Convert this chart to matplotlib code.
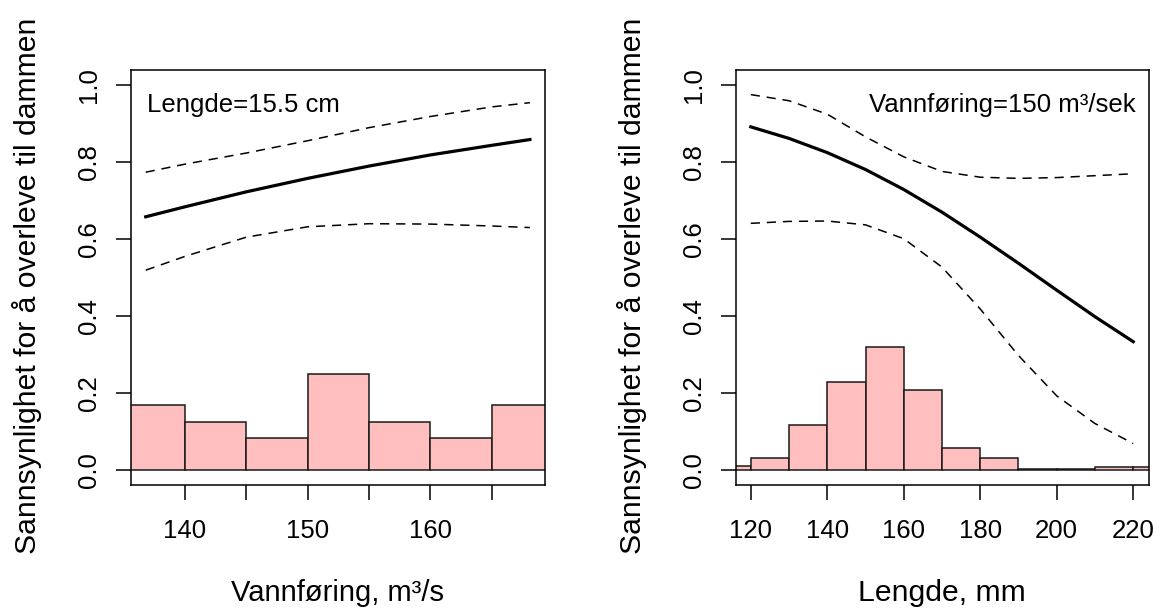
import matplotlib
matplotlib.use("Agg")
import matplotlib.pyplot as plt
import numpy as np

plt.rcParams['font.family'] = ['Liberation Sans', 'DejaVu Sans']

# ---------------- data ----------------
# Left panel: survival vs. water flow (Lengde = 15.5 cm)
flow_bin_edges = [135, 140, 145, 150, 155, 160, 165, 170]
flow_hist = [0.167, 0.125, 0.083, 0.250, 0.125, 0.083, 0.167]
flow_x = [136.8, 140, 145, 150, 155, 160, 165, 168.1]
flow_fit = [0.658, 0.684, 0.723, 0.758, 0.790, 0.819, 0.844, 0.859]
flow_upper = [0.774, 0.795, 0.824, 0.856, 0.890, 0.919, 0.944, 0.955]
flow_lower = [0.519, 0.555, 0.605, 0.632, 0.640, 0.639, 0.634, 0.630]
flow_xticks = [140, 145, 150, 155, 160, 165]
flow_xticklabels = ['140', '', '150', '', '160', '']

# Right panel: survival vs. fish length (Vannføring = 150 m3/sek)
len_bin_edges = [110, 120, 130, 140, 150, 160, 170, 180, 190, 200, 210, 220, 230]
len_hist = [0.0104, 0.0295, 0.115, 0.228, 0.318, 0.206, 0.056, 0.0295,
            0.001, 0.001, 0.006, 0.006]
len_x = [120, 130, 140, 150, 160, 170, 180, 190, 200, 210, 220]
len_fit = [0.892, 0.862, 0.825, 0.781, 0.729, 0.670, 0.605, 0.537, 0.467, 0.398, 0.333]
len_upper = [0.976, 0.960, 0.925, 0.866, 0.814, 0.776, 0.761, 0.758, 0.760, 0.765, 0.770]
len_lower = [0.641, 0.646, 0.647, 0.637, 0.601, 0.527, 0.418, 0.297, 0.192, 0.120, 0.068]
len_xticks = [120, 140, 160, 180, 200, 220]
len_xticklabels = ['120', '140', '160', '180', '200', '220']

yticks = [0.0, 0.2, 0.4, 0.6, 0.8, 1.0]
yticklabels = ['0.0', '0.2', '0.4', '0.6', '0.8', '1.0']
ylabel = 'Sannsynlighet for å overleve til dammen'

# ---------------- figure ----------------
fig = plt.figure(figsize=(11.61, 6.14), dpi=100)
ax1 = fig.add_axes([130.5 / 1161, 129 / 614, 414.5 / 1161, 415 / 614])
ax2 = fig.add_axes([735.5 / 1161, 129 / 614, 413 / 1161, 415 / 614])

FILL = '#FFBFBF'
EDGE = '#1a1a1a'
TICK_FS = 18.5
LAB_FS = 21.7


def draw_panel(ax, edges, hist, x, fit, up, lo, xlim, xticks, xticklabels, xlabel,
               xlab_fs, note, note_x, note_ha):
    ax.bar(edges[:-1], hist, width=np.diff(edges), align='edge', color=FILL,
           edgecolor=EDGE, linewidth=1.1, zorder=1)
    ax.plot(x, up, color='black', lw=1.1, linestyle=(0, (6, 4.5)), zorder=3)
    ax.plot(x, lo, color='black', lw=1.1, linestyle=(0, (6, 4.5)), zorder=3)
    ax.plot(x, fit, color='black', lw=2.3, zorder=4)
    ax.set_xlim(*xlim)
    ax.set_ylim(-0.04, 1.04)
    ax.set_xticks(xticks)
    ax.set_xticklabels(xticklabels)
    ax.set_yticks(yticks)
    ax.set_yticklabels(yticklabels)
    for s in ax.spines.values():
        s.set_linewidth(1.1)
        s.set_color('black')
    ax.tick_params(axis='both', length=10.8, width=1.1, labelsize=TICK_FS, direction='out')
    ax.tick_params(axis='x', pad=14)
    ax.tick_params(axis='y', pad=10.5)
    plt.setp(ax.get_yticklabels(), rotation=90, va='center', ha='right')
    ax.set_xlabel(xlabel, fontsize=xlab_fs)
    ax.xaxis.set_label_coords(0.5, -0.279)
    ax.xaxis.label.set_va('baseline')
    ax.set_ylabel(ylabel, fontsize=LAB_FS)
    ax.yaxis.set_label_coords(-0.229, 0.48)
    ax.yaxis.label.set_va('baseline')
    ax.text(note_x, 0.8995, note, transform=ax.transAxes, fontsize=TICK_FS,
            ha=note_ha, va='baseline')


draw_panel(ax1, flow_bin_edges, flow_hist, flow_x, flow_fit, flow_upper, flow_lower,
           (135.56, 169.33), flow_xticks, flow_xticklabels, 'Vannføring, m³/s', 21.0,
           'Lengde=15.5 cm', 0.040, 'left')
draw_panel(ax2, len_bin_edges, len_hist, len_x, len_fit, len_upper, len_lower,
           (116.0, 224.0), len_xticks, len_xticklabels, 'Lengde, mm', LAB_FS,
           'Vannføring=150 m³/sek', 0.969, 'right')

fig.savefig('out.png', dpi=100)
